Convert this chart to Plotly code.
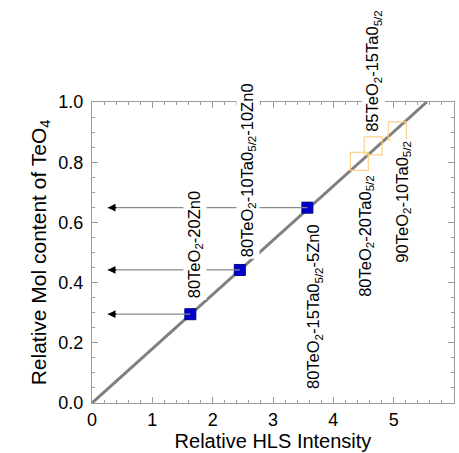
import plotly.graph_objects as go

# data
line_x = [0.0, 5.55]
line_y = [0.0, 1.0]
blue_x = [1.63, 2.45, 3.57]
blue_y = [0.295, 0.442, 0.649]
orange_x = [4.43, 4.66, 5.06]
orange_y = [0.803, 0.854, 0.904]
arrow_end_x = 0.26

labels = [
    "80TeO<sub>2</sub>-20Zn0",
    "80TeO<sub>2</sub>-10Ta0<sub>5/2</sub>-10Zn0",
    "85TeO<sub>2</sub>-15Ta0<sub>5/2</sub>",
    "80TeO<sub>2</sub>-15Ta0<sub>5/2</sub>-5Zn0",
    "80TeO<sub>2</sub>-20Ta0<sub>5/2</sub>",
    "90TeO<sub>2</sub>-10Ta0<sub>5/2</sub>",
]
label_x = [1.70, 2.58, 4.66, 3.68, 4.54, 5.15]
label_y = [0.526, 0.772, 1.104, 0.319, 0.555, 0.668]

x_ticks = [0, 1, 2, 3, 4, 5, 6]
y_ticks = [0.0, 0.2, 0.4, 0.6, 0.8, 1.0]
y_ticklabels = ["0.0", "0.2", "0.4", "0.6", "0.8", "1.0"]

FONT = "Liberation Sans, Arial, sans-serif"
AX = "#9a9a9a"

fig = go.Figure()
fig.add_trace(go.Scatter(x=line_x, y=line_y, mode="lines",
                         line=dict(color="#7f7f7f", width=3), showlegend=False))
fig.add_trace(go.Scatter(x=orange_x, y=orange_y, mode="markers",
                         marker=dict(symbol="square-open", size=18,
                                     color="#FFCF8C", line=dict(width=1.2, color="#FFCF8C")),
                         showlegend=False))
fig.add_trace(go.Scatter(x=blue_x, y=blue_y, mode="markers",
                         marker=dict(symbol="square", size=11, color="#0000CC",
                                     line=dict(width=1, color="#00008B")),
                         showlegend=False))

for bx, by in zip(blue_x, blue_y):
    fig.add_shape(type="line", x0=arrow_end_x, x1=bx, y0=by, y1=by,
                  xref="x", yref="y", line=dict(color="#8a8a8a", width=1.2))
    fig.add_annotation(x=arrow_end_x, y=by, xref="x", yref="y", text="",
                       showarrow=True, ax=10, ay=0, arrowhead=2, arrowsize=1.3,
                       arrowwidth=1.2, arrowcolor="black", standoff=0)

for t, lx, ly in zip(labels, label_x, label_y):
    # y axis spans the full paper domain [0, 1], so paper coords equal data coords;
    # paper refs keep labels visible above the axis range
    fig.add_annotation(x=lx, y=ly, xref="x", yref="paper", text=t, textangle=-90,
                       showarrow=False, bgcolor="white", borderpad=1,
                       font=dict(family=FONT, size=16.5, color="black"),
                       xanchor="center", yanchor="middle")

axis_common = dict(showline=True, linecolor=AX, linewidth=1, mirror="ticks",
                   ticks="inside", tickcolor=AX, ticklen=6, tickwidth=1,
                   showgrid=False, zeroline=False,
                   tickfont=dict(family=FONT, size=18, color="black"))

fig.update_xaxes(range=[0, 6], tickvals=x_ticks, ticktext=[str(v) for v in x_ticks],
                 minor=dict(dtick=0.2, ticks="inside", ticklen=3, tickcolor=AX, showgrid=False),
                 title=dict(text="Relative HLS Intensity",
                            font=dict(family=FONT, size=20, color="black"), standoff=5),
                 **axis_common)
fig.update_yaxes(range=[0, 1], tickvals=y_ticks, ticktext=y_ticklabels,
                 minor=dict(dtick=0.05, ticks="inside", ticklen=3, tickcolor=AX, showgrid=False),
                 ticklabelstandoff=4,
                 title=dict(text="Relative Mol content of TeO<sub>4</sub>",
                            font=dict(family=FONT, size=21, color="black"), standoff=6),
                 **axis_common)

fig.update_layout(width=459, height=453, margin=dict(l=92, r=5, t=102, b=50),
                  plot_bgcolor="white", paper_bgcolor="white")

fig.write_html("out.html")
